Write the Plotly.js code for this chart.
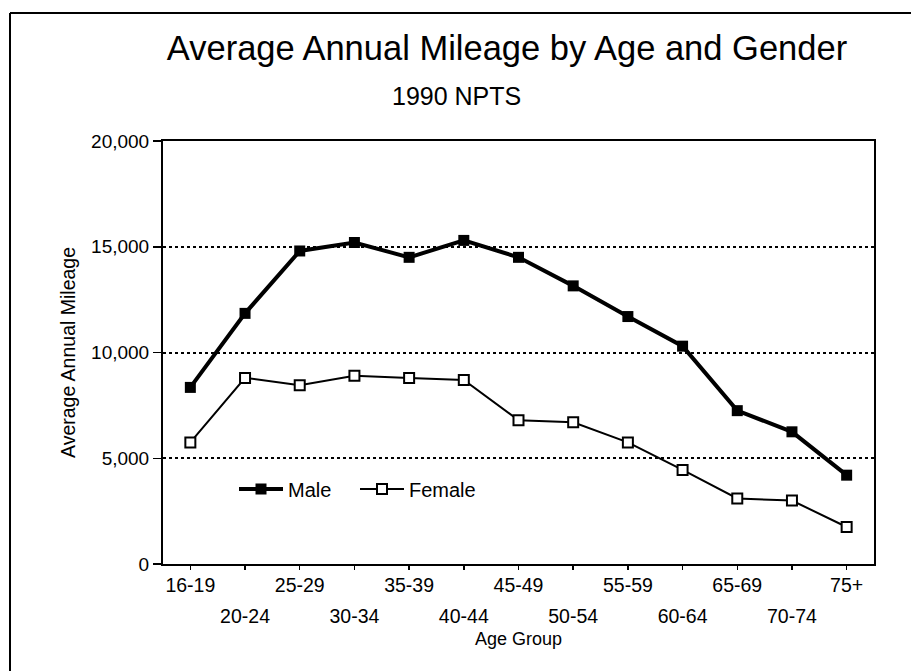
<!DOCTYPE html>
<html>
<head>
<meta charset="utf-8">
<script src="https://cdn.plot.ly/plotly-3.0.1.min.js"></script>
<style>
  html, body { margin: 0; padding: 0; background: #fff; }
  #chart { width: 911px; height: 671px; }
</style>
</head>
<body>
<div id="chart"></div>
<script>
// ---- data ----
const ageGroups = ["16-19","20-24","25-29","30-34","35-39","40-44","45-49","50-54","55-59","60-64","65-69","70-74","75+"];
const maleMileage = [8350, 11850, 14800, 15200, 14500, 15300, 14500, 13150, 11700, 10300, 7250, 6250, 4200];
const femaleMileage = [5750, 8800, 8450, 8900, 8800, 8700, 6800, 6700, 5750, 4450, 3100, 3000, 1750];
const yTickVals = [0, 5000, 10000, 15000, 20000];
const yTickText = ["0", "5,000", "10,000", "15,000", "20,000"];

// alternate the category labels on two rows
const xTickText = ageGroups.map((g, i) =>
  i % 2 === 0 ? '<span style="font-size:19.5px">' + g + '</span>'
              : '<br><span style="font-size:19.5px">' + g + '</span>');

const FONT = 'Liberation Sans, Arial, Helvetica, sans-serif';

const traces = [
  {
    x: ageGroups, y: maleMileage, name: 'Male', type: 'scatter', mode: 'lines+markers',
    line: { color: '#000', width: 4 },
    marker: { symbol: 'square', size: 11, color: '#000' }
  },
  {
    x: ageGroups, y: femaleMileage, name: 'Female', type: 'scatter', mode: 'lines+markers',
    line: { color: '#000', width: 2 },
    marker: { symbol: 'square', size: 10, color: '#fff', line: { color: '#000', width: 2 } }
  }
];

const layout = {
  width: 911, height: 671,
  margin: { l: 163, r: 37, t: 141, b: 107 },
  paper_bgcolor: '#fff', plot_bgcolor: '#fff',
  font: { family: FONT, color: '#000' },
  showlegend: true,
  title: {
    text: 'Average Annual Mileage by Age and Gender',
    font: { family: FONT, size: 34.5, color: '#000' },
    x: 507 / 911, xref: 'container', xanchor: 'center',
    y: 1 - 48 / 671, yref: 'container', yanchor: 'middle'
  },
  annotations: [{
    text: '1990 NPTS', xref: 'paper', yref: 'paper',
    x: (456 - 163) / 711, y: (564 - 96) / 423, xanchor: 'center', yanchor: 'middle',
    showarrow: false, font: { family: FONT, size: 25, color: '#000' }
  }],
  legend: {
    orientation: 'h', x: (234 - 163) / 711, xanchor: 'left',
    y: (564 - 489) / 423, yanchor: 'middle',
    bgcolor: 'rgba(0,0,0,0)', font: { family: FONT, size: 20, color: '#000' },
    itemwidth: 44, entrywidth: 62, entrywidthmode: 'pixels', tracegroupgap: 0
  },
  xaxis: {
    type: 'category', categoryorder: 'array', categoryarray: ageGroups,
    range: [-0.5, 12.5],
    tickvals: ageGroups, ticktext: xTickText,
    tickfont: { family: FONT, size: 23.5, color: '#000' },
    ticks: 'outside', ticklen: 4, tickwidth: 1.5, tickcolor: '#000',
    ticklabelstandoff: -6,
    showline: true, linecolor: '#000', linewidth: 2, mirror: true,
    showgrid: false, zeroline: false,
    title: { text: 'Age Group', font: { family: FONT, size: 18, color: '#000' }, standoff: 7 }
  },
  yaxis: {
    range: [0, 20000], tickvals: yTickVals, ticktext: yTickText,
    tickfont: { family: FONT, size: 19, color: '#000' },
    ticks: 'outside', ticklen: 8, tickwidth: 1.5, tickcolor: '#000',
    showline: true, linecolor: '#000', linewidth: 2, mirror: true,
    showgrid: true, gridcolor: '#000', gridwidth: 2, griddash: '3px,3px',
    zeroline: false,
    title: { text: 'Average Annual Mileage', font: { family: FONT, size: 19.5, color: '#000' }, standoff: 10 }
  },
  shapes: [
    { type: 'line', xref: 'paper', yref: 'paper', x0: (10 - 163) / 711, x1: (10 - 163) / 711,
      y0: (564 - 13) / 423, y1: (564 - 675) / 423, line: { color: '#000', width: 2 } },
    { type: 'line', xref: 'paper', yref: 'paper', x0: (10 - 163) / 711, x1: (915 - 163) / 711,
      y0: (564 - 13) / 423, y1: (564 - 13) / 423, line: { color: '#000', width: 2 } }
  ]
};

Plotly.newPlot('chart', traces, layout, { displayModeBar: false, staticPlot: true });
</script>
</body>
</html>
